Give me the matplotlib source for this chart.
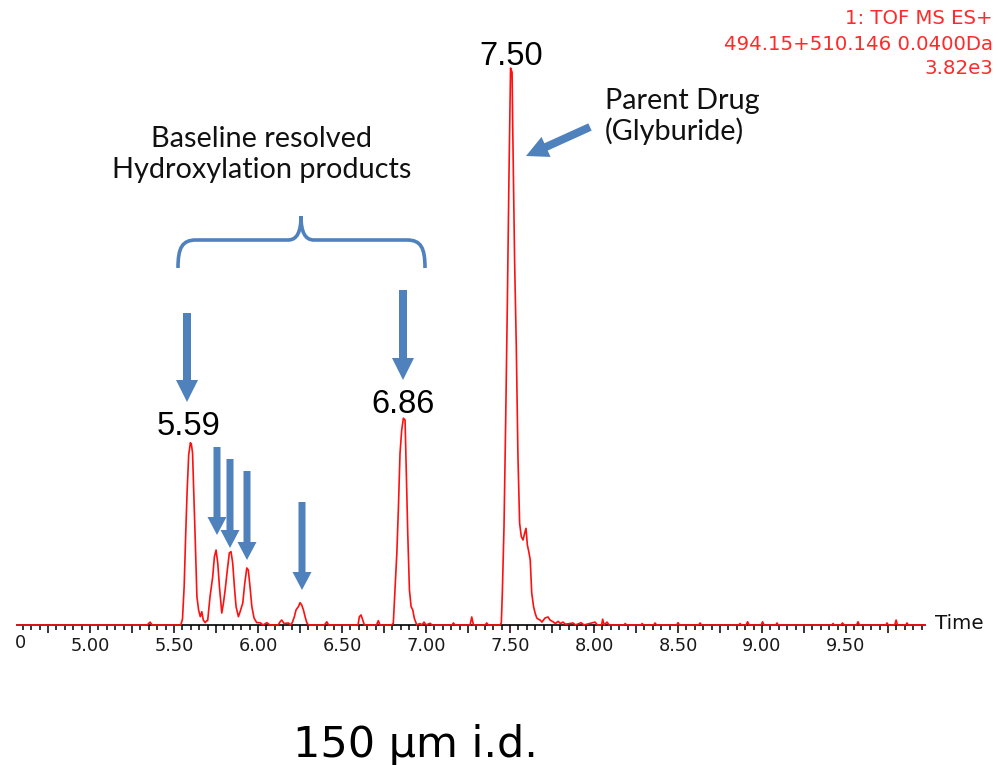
import matplotlib
matplotlib.use("Agg")
import matplotlib.pyplot as plt
from matplotlib.patches import FancyArrow, PathPatch
from matplotlib.path import Path
from matplotlib.ticker import MultipleLocator, FuncFormatter
from matplotlib.transforms import Affine2D

# retention time (min) and counts
time_min = [
    4.565, 5.340, 5.357, 5.370, 5.540,
    5.550, 5.560, 5.570, 5.578, 5.587, 5.597, 5.603, 5.610, 5.617, 5.626,
    5.636, 5.646, 5.656, 5.665, 5.674, 5.685, 5.695,
    5.700, 5.714, 5.730, 5.740, 5.750, 5.760, 5.770, 5.784,
    5.794, 5.804, 5.817, 5.829, 5.839, 5.849, 5.859, 5.869, 5.883,
    5.893, 5.909, 5.921, 5.933, 5.942, 5.952, 5.963, 5.976, 5.992, 6.012, 6.030,
    6.052, 6.070, 6.120, 6.131, 6.141, 6.155, 6.180, 6.195,
    6.205, 6.216, 6.226, 6.240, 6.250, 6.260, 6.270, 6.280, 6.290, 6.300,
    6.395, 6.409, 6.420, 6.595, 6.603, 6.613, 6.623, 6.633, 6.705, 6.716, 6.725, 6.795,
    6.805, 6.815, 6.826, 6.835, 6.845, 6.855, 6.865, 6.875, 6.881, 6.891,
    6.901, 6.911, 6.921, 6.930, 6.945,
    6.964, 6.975, 6.988, 7.000, 7.024, 7.035, 7.155, 7.163, 7.172,
    7.262, 7.272, 7.282, 7.352, 7.361, 7.370, 7.440,
    7.448, 7.454, 7.464, 7.474, 7.484, 7.494, 7.503, 7.512, 7.516, 7.527,
    7.537, 7.547, 7.557, 7.567, 7.577, 7.587, 7.595, 7.603, 7.613, 7.620,
    7.629, 7.635, 7.640, 7.649, 7.659, 7.668, 7.679, 7.690, 7.708, 7.726,
    7.738, 7.756, 7.770, 7.786, 7.800, 7.815, 7.830, 7.875, 7.890, 7.923,
    7.940, 8.006, 8.020, 8.045, 8.051, 8.060, 8.077, 8.090, 8.180, 8.185,
    8.195, 8.280, 8.286, 8.295, 8.355, 8.363, 8.372, 8.492, 8.500, 8.508,
    8.623, 8.631, 8.640, 8.862, 8.869, 8.877, 8.905, 8.914, 8.923, 8.995,
    9.003, 9.012, 9.082, 9.089, 9.096, 9.415, 9.423, 9.430, 9.470, 9.479,
    9.488, 9.563, 9.571, 9.580, 9.737, 9.744, 9.751, 9.790, 9.798, 9.806,
    9.856, 9.863, 9.870, 9.970,
]
intensity = [
    0, 0, 20, 0, 0,
    40, 263, 652, 926, 1166, 1250, 1240, 1180, 926, 583,
    194, 103, 57, 91, 34, 16, 30,
    30, 194, 331, 468, 514, 425, 263, 82,
    151, 240, 377, 494, 503, 425, 263, 126, 57,
    91, 151, 288, 391, 377, 263, 126, 48, 16, 16, 0,
    16, 0, 0, 22, 34, 10, 14, 0,
    20, 57, 103, 126, 153, 137, 103, 57, 16, 0,
    0, 22, 0, 0, 57, 69, 34, 0, 0, 30, 0, 0,
    12, 240, 492, 789, 1178, 1337, 1418, 1406, 1120, 629,
    240, 126, 103, 46, 0,
    10, 0, 20, 0, 12, 0, 0, 14, 0,
    0, 55, 0, 0, 14, 0, 0,
    14, 219, 674, 1406, 2217, 3120, 3820, 3790, 3406, 2503,
    1920, 1154, 697, 606, 583, 631, 663, 549, 494, 446,
    219, 171, 126, 82, 48, 40, 34, 20, 48, 55,
    34, 22, 10, 25, 10, 20, 5, 14, 0, 16,
    0, 20, 0, 0, 40, 0, 20, 0, 0, 10,
    0, 0, 10, 0, 0, 14, 0, 0, 16, 0,
    0, 14, 0, 0, 10, 0, 0, 22, 0, 0,
    22, 0, 0, 14, 0, 0, 10, 0, 0, 14,
    0, 0, 22, 0, 0, 14, 0, 0, 34, 0,
    0, 14, 0, 0,
]
y_max = 3820
header = ["1: TOF MS ES+", "494.15+510.146 0.0400Da", "3.82e3"]
peak_labels = ["5.59", "6.86", "7.50"]

W, H = 998, 765
fig = plt.figure(figsize=(W / 100, H / 100), dpi=100)
fig.patch.set_facecolor("white")
# pixel coords, y measured from the top
pix = Affine2D().scale(1 / W, -1 / H).translate(0, 1) + fig.transFigure

ax = fig.add_axes([17 / W, 1 - 625 / H, (925 - 17) / W, (625 - 40) / H])
ax.plot(time_min, intensity, color="#ff1010", lw=1.2, zorder=3, clip_on=False)
ax.set_xlim(4.565, 9.97)
ax.set_ylim(0, y_max * 585 / 557)
for s in ["top", "right", "left"]:
    ax.spines[s].set_visible(False)
ax.spines["bottom"].set_linewidth(1.2)
ax.yaxis.set_visible(False)
ax.patch.set_alpha(0)

ax.xaxis.set_major_locator(MultipleLocator(0.25))
ax.xaxis.set_minor_locator(MultipleLocator(0.05))
ax.xaxis.set_major_formatter(
    FuncFormatter(lambda v, p: f"{v:.2f}" if abs(v * 2 - round(v * 2)) < 1e-6 else ""))
ax.tick_params(axis="x", which="major", length=5.8, width=1.1, pad=2.6,
               labelsize=12.8, labelcolor="#1a1a1a")
ax.tick_params(axis="x", which="minor", length=3.6, width=1.1)
# only the last digit of the 4.50 label is left inside the picture
fig.text(21, 643, "0", transform=pix, ha="center", va="center",
         fontsize=12.8, color="#1a1a1a")
fig.text(935, 624, "Time", transform=pix, ha="left", va="center",
         fontsize=14.3, color="#111111")

red = "#ff2a2a"
for txt, yy in zip(header, [19, 44, 69]):
    fig.text(993, yy, txt, transform=pix, ha="right", va="center",
             fontsize=14.2, color=red)

for txt, (xx, yy) in zip(peak_labels, [(189, 435), (403, 413), (511, 65)]):
    fig.text(xx, yy, txt, transform=pix, ha="center", va="baseline",
             fontsize=23.5, family="Liberation Sans", color="black")

ann = dict(transform=pix, va="baseline", fontsize=20.8, family="Lato", color="#111111")
fig.text(605, 109, "Parent Drug", ha="left", **ann)
fig.text(605, 140, "(Glyburide)", ha="left", **ann)
fig.text(262, 147, "Baseline resolved", ha="center", **ann)
fig.text(262, 178, "Hydroxylation products", ha="center", **ann)

fig.text(415, 757, "150 \u00b5m i.d.", transform=pix, ha="center", va="baseline",
         fontsize=31, color="black")

blue = "#4f81bd"
big = [((187, 313), (187, 402)), ((403, 290), (403, 380)), ((590, 127), (526, 156))]
small = [((217, 447), (217, 535)), ((230, 459), (230, 548)),
         ((247, 471), (247, 560)), ((302, 502), (302, 590))]
for arrows, w, hw, hl in [(big, 8, 22, 22), (small, 7, 19, 18)]:
    for (x0, y0), (x1, y1) in arrows:
        fig.add_artist(FancyArrow(x0, y0, x1 - x0, y1 - y0, width=w, head_width=hw,
                                  head_length=hl, length_includes_head=True,
                                  transform=pix, color=blue, lw=0))

# curly brace over the hydroxylation peaks
verts = [(178, 268), (178, 248), (182, 240), (196, 240),
         (288, 240), (297, 240), (301, 232), (301, 216),
         (301, 232), (305, 240), (314, 240),
         (407, 240), (421, 240), (425, 248), (425, 268)]
codes = [Path.MOVETO, Path.CURVE4, Path.CURVE4, Path.CURVE4,
         Path.LINETO, Path.CURVE4, Path.CURVE4, Path.CURVE4,
         Path.CURVE4, Path.CURVE4, Path.CURVE4,
         Path.LINETO, Path.CURVE4, Path.CURVE4, Path.CURVE4]
fig.add_artist(PathPatch(Path(verts, codes), transform=pix, fill=False,
                         edgecolor=blue, lw=2.6, capstyle="butt"))

fig.savefig("out.png", dpi=100)
